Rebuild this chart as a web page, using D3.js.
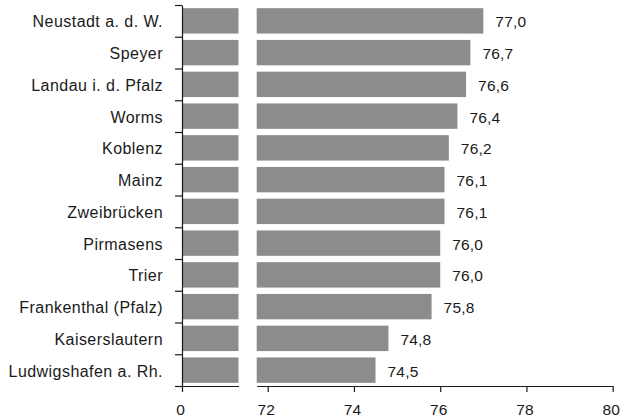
<!DOCTYPE html>
<html>
<head>
<meta charset="utf-8">
<script src="https://cdn.jsdelivr.net/npm/d3@7"></script>
<style>
  body { margin: 0; background: #fff; }
  text { font-family: "Liberation Sans", Arial, sans-serif; fill: #1a1a1a; }
</style>
</head>
<body>
<div id="vis"></div>
<script>
// cities and their values, top to bottom
var cities = ["Neustadt a. d. W.", "Speyer", "Landau i. d. Pfalz", "Worms", "Koblenz",
  "Mainz", "Zweibrücken", "Pirmasens", "Trier", "Frankenthal (Pfalz)",
  "Kaiserslautern", "Ludwigshafen a. Rh."];
var values = [77.0, 76.7, 76.6, 76.4, 76.2, 76.1, 76.1, 76.0, 76.0, 75.8, 74.8, 74.5];
var ticksLeft = [0];
var ticksRight = [72, 74, 76, 78, 80];

var width = 622, height = 417;
var top0 = 5, bottom0 = 386, axisX = 182;

var de = d3.formatLocale({decimal: ",", thousands: ".", grouping: [3], currency: ["", " €"]});
var fmt = de.format(".1f");

var svg = d3.select('#vis').append('svg')
  .attr('width', width)
  .attr('height', height);

// band scale for the bars, linear one for the boundary ticks
var y = d3.scaleBand()
  .domain(cities)
  .range([top0, bottom0])
  .paddingInner(0.2)
  .paddingOuter(0.1);

var yEdge = d3.scaleLinear().domain([0, cities.length]).range([top0, bottom0]);

// broken x axis: 0 .. cut, then 72 .. 80
var xLeft = d3.scaleLinear().domain([0, 1]).range([axisX, 238.5]);
var xRight = d3.scaleLinear().domain([71.745, 80]).range([256.7, 612.7]);

var data = cities.map(function(c, i) { return {city: c, value: values[i]}; });

var barColor = '#8c8c8c';

svg.selectAll('.barL')
  .data(data)
  .enter().append('rect')
  .attr('class', 'barL')
  .attr('x', xLeft(0))
  .attr('y', function(d) { return y(d.city); })
  .attr('width', xLeft(1) - xLeft(0))
  .attr('height', y.bandwidth())
  .attr('fill', barColor);

svg.selectAll('.barR')
  .data(data)
  .enter().append('rect')
  .attr('class', 'barR')
  .attr('x', xRight.range()[0])
  .attr('y', function(d) { return y(d.city); })
  .attr('width', function(d) { return xRight(d.value) - xRight.range()[0]; })
  .attr('height', y.bandwidth())
  .attr('fill', barColor);

// value labels
svg.selectAll('.val')
  .data(data)
  .enter().append('text')
  .attr('class', 'val')
  .attr('x', function(d) { return xRight(d.value) + 12; })
  .attr('y', function(d) { return y(d.city) + y.bandwidth() / 2; })
  .attr('dy', '0.42em')
  .style('font-size', '15.5px')
  .style('letter-spacing', '0.2px')
  .text(function(d) { return fmt(d.value); });

// category labels
svg.selectAll('.cat')
  .data(data)
  .enter().append('text')
  .attr('class', 'cat')
  .attr('x', 163)
  .attr('y', function(d) { return y(d.city) + y.bandwidth() / 2; })
  .attr('dy', '0.4em')
  .attr('text-anchor', 'end')
  .style('font-size', '16px')
  .style('letter-spacing', '0.45px')
  .text(function(d) { return d.city; });

// y axis with ticks at the band edges
var yAxis = svg.append('g')
  .attr('transform', 'translate(' + axisX + ',0)')
  .call(d3.axisLeft(yEdge)
    .tickValues(d3.range(cities.length + 1))
    .tickFormat('')
    .tickSize(7)
    .tickSizeOuter(0));

// x axes
var xAxisL = svg.append('g')
  .attr('transform', 'translate(0,' + bottom0 + ')')
  .call(d3.axisBottom(xLeft).tickValues(ticksLeft).tickFormat(d3.format('d'))
    .tickSize(6).tickSizeOuter(0).tickPadding(12));

var xAxisR = svg.append('g')
  .attr('transform', 'translate(0,' + bottom0 + ')')
  .call(d3.axisBottom(xRight).tickValues(ticksRight).tickFormat(d3.format('d'))
    .tickSize(6).tickSizeOuter(0).tickPadding(12));

svg.selectAll('.domain, .tick line')
  .attr('stroke', '#1a1a1a')
  .attr('stroke-width', 1.2);

svg.selectAll('.tick text')
  .style('font-size', '15.5px')
  .attr('fill', '#1a1a1a')
  .attr('x', -2)
  .style('font-family', '"Liberation Sans", Arial, sans-serif');
</script>
</body>
</html>
